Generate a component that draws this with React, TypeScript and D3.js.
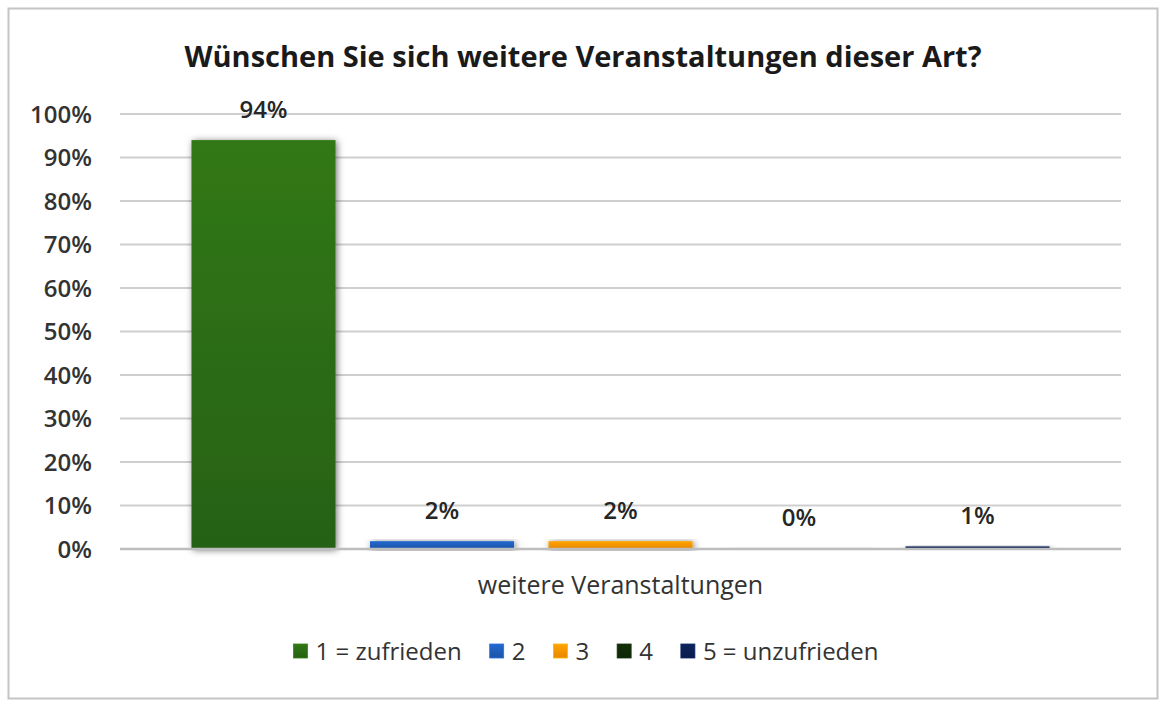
// @ts-nocheck
import React, { useEffect, useRef } from "react";
import * as d3 from "d3";

const title = "Wünschen Sie sich weitere Veranstaltungen dieser Art?";
const categoryLabel = "weitere Veranstaltungen";
const seriesNames = ["1 = zufrieden", "2", "3", "4", "5 = unzufrieden"];
const seriesValues = [0.94, 0.018, 0.018, 0.002, 0.006];
const seriesColors = ["#2b6a14", "#1f5cb8", "#ff9200", "#0f2b08", "#0b1f52"];
const yTicks = [0, 0.1, 0.2, 0.3, 0.4, 0.5, 0.6, 0.7, 0.8, 0.9, 1.0];

function App() {
  const ref = useRef(null);

  useEffect(() => {
    const plot = { left: 120, right: 1121, top: 114, bottom: 549 };
    const svg = d3.select(ref.current);
    svg.selectAll("*").remove();

    const defs = svg.append("defs");
    const shadow = defs
      .append("filter")
      .attr("id", "shadow")
      .attr("x", "-20%")
      .attr("y", "-20%")
      .attr("width", "140%")
      .attr("height", "140%");
    shadow
      .append("feDropShadow")
      .attr("dx", 1.5)
      .attr("dy", 1)
      .attr("stdDeviation", 3.5)
      .attr("flood-color", "#000")
      .attr("flood-opacity", 0.55);

    // vertical gradient per series, a bit lighter on top (Excel style)
    seriesColors.forEach((c, i) => {
      const g = defs
        .append("linearGradient")
        .attr("id", "grad" + i)
        .attr("x1", 0)
        .attr("y1", 0)
        .attr("x2", 0)
        .attr("y2", 1);
      g.append("stop").attr("offset", "0%").attr("stop-color", d3.color(c).brighter(0.35));
      g.append("stop").attr("offset", "100%").attr("stop-color", d3.color(c).darker(0.25));
    });

    // frame
    svg
      .append("rect")
      .attr("x", 8.5)
      .attr("y", 8.5)
      .attr("width", 1149)
      .attr("height", 690)
      .attr("fill", "#fff")
      .attr("stroke", "#c4c4c4")
      .attr("stroke-width", 2);

    const y = d3.scaleLinear().domain([0, 1]).range([plot.bottom, plot.top]);
    const mid = (plot.left + plot.right) / 2;
    const step = 178.5;
    const x = d3
      .scaleBand()
      .domain(seriesNames)
      .range([mid - 2.5 * step, mid + 2.5 * step])
      .paddingInner(0.193)
      .paddingOuter(0.0965);

    // gridlines
    svg
      .append("g")
      .selectAll("line")
      .data(yTicks.filter((t) => t > 0))
      .enter()
      .append("line")
      .attr("x1", plot.left)
      .attr("x2", plot.right)
      .attr("y1", (d) => y(d))
      .attr("y2", (d) => y(d))
      .attr("stroke", "#cfcfcf")
      .attr("stroke-width", 2);

    // y tick labels
    svg
      .append("g")
      .selectAll("text")
      .data(yTicks)
      .enter()
      .append("text")
      .attr("x", 92)
      .attr("y", (d) => y(d) + 8.5)
      .attr("text-anchor", "end")
      .style("font-family", "'Open Sans', sans-serif")
      .style("font-size", "24px")
      .style("font-weight", 600)
      .attr("fill", "#333")
      .text((d) => d3.format(".0%")(d));

    // bars
    svg
      .append("g")
      .selectAll("rect")
      .data(seriesValues)
      .enter()
      .append("rect")
      .attr("x", (d, i) => x(seriesNames[i]))
      .attr("width", x.bandwidth())
      .attr("y", (d) => y(d))
      .attr("height", (d) => plot.bottom - y(d))
      .attr("fill", (d, i) => "url(#grad" + i + ")")
      .attr("filter", "url(#shadow)");

    // baseline
    svg
      .append("line")
      .attr("x1", plot.left)
      .attr("x2", plot.right)
      .attr("y1", plot.bottom)
      .attr("y2", plot.bottom)
      .attr("stroke", "#bdbdbd")
      .attr("stroke-width", 2.5);

    // value labels
    svg
      .append("g")
      .selectAll("text")
      .data(seriesValues)
      .enter()
      .append("text")
      .attr("x", (d, i) => x(seriesNames[i]) + x.bandwidth() / 2)
      .attr("y", (d) => y(d) - 22)
      .attr("text-anchor", "middle")
      .style("font-family", "'Open Sans', sans-serif")
      .style("font-size", "24px")
      .style("font-weight", 600)
      .attr("fill", "#262626")
      .text((d) => d3.format(".0%")(d));

    // title
    svg
      .append("text")
      .attr("x", 583)
      .attr("y", 67)
      .attr("text-anchor", "middle")
      .style("font-family", "'Open Sans', sans-serif")
      .style("font-size", "29px")
      .style("font-weight", 700)
      .attr("fill", "#1a1a1a")
      .text(title);

    // category axis label
    svg
      .append("text")
      .attr("x", mid)
      .attr("y", 594)
      .attr("text-anchor", "middle")
      .style("font-family", "'Open Sans', sans-serif")
      .style("font-size", "25px")
      .attr("fill", "#333")
      .text(categoryLabel);

    // legend, centred under the chart
    const legend = svg.append("g");
    const sw = 14,
      gapText = 8,
      gapItem = 28;
    let cx = 0;
    seriesNames.forEach((name, i) => {
      const g = legend.append("g");
      g.append("rect")
        .attr("x", 0)
        .attr("y", 651 - sw / 2)
        .attr("width", sw)
        .attr("height", sw)
        .attr("fill", "url(#grad" + i + ")")
        .attr("stroke", d3.color(seriesColors[i]).brighter(0.6))
        .attr("stroke-width", 0.8);
      const t = g
        .append("text")
        .attr("x", sw + gapText)
        .attr("y", 660)
        .style("font-family", "'Open Sans', sans-serif")
        .style("font-size", "24px")
        .attr("fill", "#333")
        .text(name);
      const w = sw + gapText + t.node().getComputedTextLength();
      g.attr("transform", "translate(" + cx + ",0)");
      cx += w + gapItem;
    });
    const total = cx - gapItem;
    legend.attr("transform", "translate(" + (586 - total / 2) + ",0)");
  }, []);

  return (
    <svg
      ref={ref}
      width={1170}
      height={711}
      style={{ position: "absolute", left: 0, top: 0, background: "#fff" }}
    />
  );
}

export default App;
